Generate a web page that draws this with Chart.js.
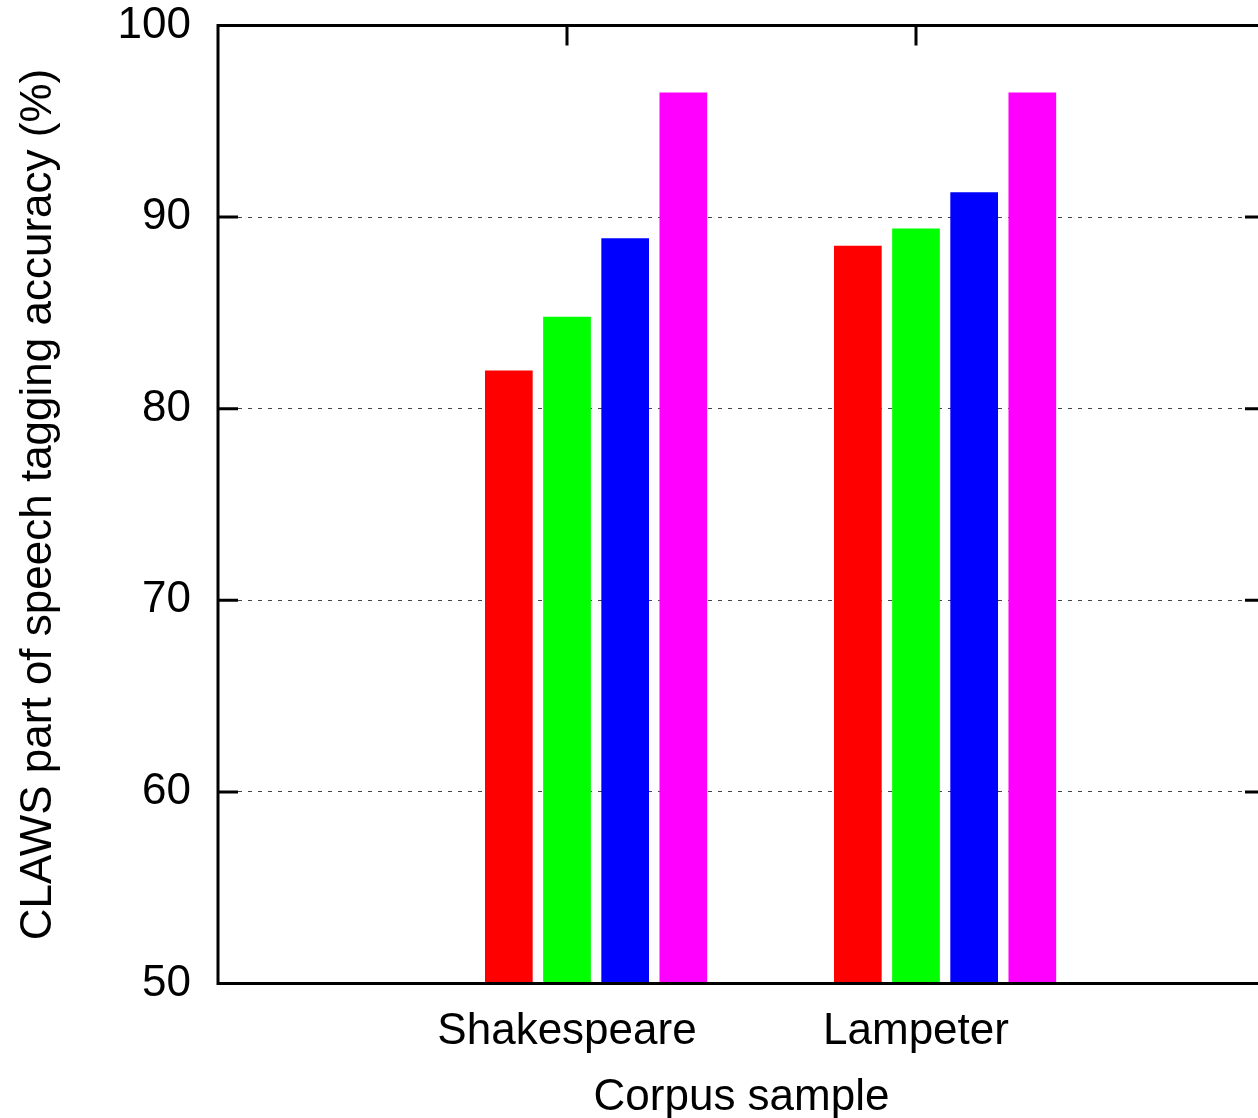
<!DOCTYPE html>
<html>
<head>
<meta charset="utf-8">
<title>CLAWS part of speech tagging accuracy</title>
<script src="https://cdn.jsdelivr.net/npm/chart.js@4.4.0/dist/chart.umd.min.js"></script>
<style>
  html, body { margin: 0; padding: 0; background: #fff; overflow: hidden; }
  /* the plot frame runs a little past the right edge of the window, as in the original */
  #wrap { position: absolute; left: 0; top: 0; width: 1300px; height: 1118px; }
</style>
</head>
<body>
<div id="wrap"><canvas id="chart" width="1300" height="1118"></canvas></div>
<script>
  // data
  const categories = ["Shakespeare", "Lampeter"];
  const redValues = [82.0, 88.5];
  const greenValues = [84.8, 89.4];
  const blueValues = [88.9, 91.3];
  const magentaValues = [96.5, 96.5];
  const yTickValues = [50, 60, 70, 80, 90, 100];

  const seriesValues = [redValues, greenValues, blueValues, magentaValues];
  const seriesColors = ["#ff0000", "#00ff00", "#0000ff", "#ff00ff"];

  // gnuplot-like clustered histogram: 4 bars + gap of 2 per cluster
  const clusterSlots = 6;
  const FONT = "'Liberation Sans', Arial, sans-serif";

  const datasets = seriesValues.map((vals, s) => ({
    data: vals.map((v, c) => ({ x: (c + 1) + (s - 1) / clusterSlots, y: v })),
    backgroundColor: seriesColors[s],
    borderWidth: 0,
    grouped: false,
    categoryPercentage: 1,
    barPercentage: 0.82
  }));

  // frame and inward ticks on all four sides
  const framePlugin = {
    id: "frame",
    beforeDatasetsDraw(chart) {
      const { ctx, chartArea: a, scales } = chart;
      const len = 20;
      ctx.save();
      ctx.strokeStyle = "#000";
      ctx.lineWidth = 3;
      ctx.beginPath();
      yTickValues.forEach(v => {
        const y = scales.y.getPixelForValue(v);
        ctx.moveTo(a.left, y); ctx.lineTo(a.left + len, y);
        ctx.moveTo(a.right - len, y); ctx.lineTo(a.right, y);
      });
      categories.forEach((c, i) => {
        const x = scales.x.getPixelForValue(i + 1);
        ctx.moveTo(x, a.top); ctx.lineTo(x, a.top + len);
        ctx.moveTo(x, a.bottom - len); ctx.lineTo(x, a.bottom);
      });
      ctx.stroke();
      ctx.restore();
    },
    afterDatasetsDraw(chart) {
      const { ctx, chartArea: a } = chart;
      ctx.save();
      ctx.strokeStyle = "#000";
      ctx.lineWidth = 3;
      ctx.strokeRect(a.left, a.top, a.right - a.left, a.bottom - a.top);
      ctx.restore();
    }
  };

  new Chart(document.getElementById("chart"), {
    type: "bar",
    data: { datasets },
    plugins: [framePlugin],
    options: {
      responsive: false,
      animation: false,
      devicePixelRatio: 1,
      layout: { padding: { top: 0, right: 35, bottom: 0, left: 0 } },
      plugins: { legend: { display: false }, tooltip: { enabled: false } },
      scales: {
        x: {
          type: "linear",
          min: 0,
          max: 3,
          offset: false,
          afterBuildTicks: scale => { scale.ticks = categories.map((c, i) => ({ value: i + 1 })); },
          afterFit: scale => { scale.height = 134.5; },
          ticks: {
            callback: v => categories[v - 1],
            autoSkip: false,
            maxRotation: 0,
            color: "#000",
            padding: 22,
            font: { family: FONT, size: 44 }
          },
          grid: { display: false, drawTicks: false },
          border: { display: false },
          title: {
            display: true,
            text: "Corpus sample",
            color: "#000",
            padding: { top: 18, bottom: 0 },
            font: { family: FONT, size: 44, lineHeight: 0.91 }
          }
        },
        y: {
          min: 50,
          max: 100,
          afterBuildTicks: scale => { scale.ticks = yTickValues.map(v => ({ value: v })); },
          // fixed axis width; top room for the "100" label only, not label + padding
          afterFit: scale => { scale.width = 218; scale.paddingTop = 25.5; },
          ticks: {
            color: "#000",
            padding: 27,
            font: { family: FONT, size: 44 }
          },
          grid: {
            drawTicks: false,
            lineWidth: 1,
            color: ctx => (ctx.tick && (ctx.tick.value === 50 || ctx.tick.value === 100)) ? "rgba(0,0,0,0)" : "#444"
          },
          border: { display: false, dash: [4, 6] },
          title: {
            display: true,
            text: "CLAWS part of speech tagging accuracy (%)",
            color: "#000",
            padding: { top: 12, bottom: 0 },
            font: { family: FONT, size: 44 }
          }
        }
      }
    }
  });
</script>
</body>
</html>
